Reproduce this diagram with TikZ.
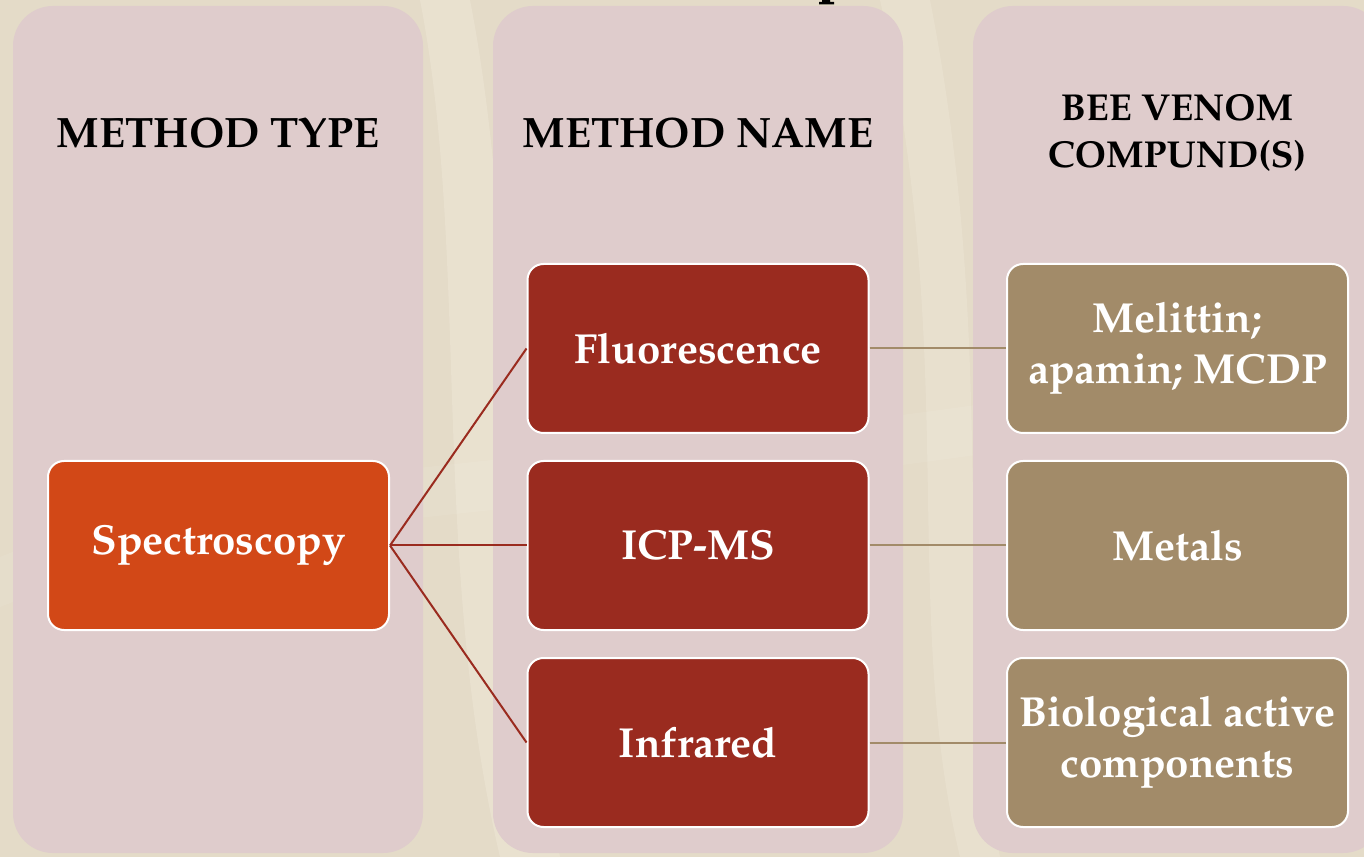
\documentclass[tikz,border=0pt]{standalone}
\usepackage[T1]{fontenc}
\usepackage{mathpazo}
\definecolor{bgbeige}{HTML}{E4DBC8}
\definecolor{bglight}{HTML}{EDE5D5}
\definecolor{colpink}{HTML}{DFCCCC}
\definecolor{typeorange}{HTML}{D24817}
\definecolor{namered}{HTML}{9A2B1F}
\definecolor{compbrown}{HTML}{A28B69}
\tikzset{
  column/.style={fill=colpink, rounded corners=40pt},
  header/.style={font=\fontsize{42.5}{48}\selectfont\bfseries, text=black, align=center},
  item/.style={draw=white, line width=2pt, rounded corners=16pt,
    minimum width=341pt, minimum height=169pt, text=white, align=center,
    inner sep=0pt, font=\fontsize{42}{51}\selectfont\bfseries},
  typebox/.style={item, fill=typeorange},
  namebox/.style={item, fill=namered},
  compbox/.style={item, fill=compbrown},
  typelink/.style={draw=namered, line width=2pt},
  complink/.style={draw=compbrown, line width=2pt}
}
\begin{document}
\begin{tikzpicture}[x=1pt,y=1pt]
\useasboundingbox (0,0) rectangle (1364,857);
% marble backdrop
\fill[bgbeige] (0,0) rectangle (1364,857);
\fill[bglight, opacity=0.6] (420,857) .. controls (470,600) and (430,300) .. (500,0) -- (560,0) .. controls (500,300) and (520,600) .. (470,857) -- cycle;
\fill[bglight, opacity=0.5] (880,857) .. controls (960,500) and (900,250) .. (960,0) -- (1000,0) .. controls (950,250) and (1000,500) .. (930,857) -- cycle;
\fill[white, opacity=0.07] (0,300) .. controls (300,420) and (700,380) .. (1364,520) -- (1364,470) .. controls (700,330) and (300,370) .. (0,250) -- cycle;
% foot of a title letter running off the top edge
\fill[black] (822,857) rectangle (830,855) (819,855) rectangle (834,852.5);
% columns
\fill[column] (13,4) rectangle (423,851);
\fill[column] (493,4) rectangle (903,851);
\fill[column] (973,4) rectangle (1383,851);
% column headers
\node[header] (htype) at (218,724) {METHOD TYPE};
\node[header] (hname) at (698,724) {METHOD NAME};
\node[header, font=\fontsize{37.5}{47}\selectfont\bfseries] (hcomp) at (1177,724) {BEE VENOM\\COMPUND(S)};
% boxes
\node[typebox] (spec) at (218.5,311.5) {Spectroscopy};
\node[namebox] (fluo) at (698,508.5) {Fluorescence};
\node[namebox] (icp) at (698,311.5) {ICP-MS};
\node[namebox] (ir) at (698,114.5) {Infrared};
\node[compbox] (mel) at (1177.5,508.5) {Melittin;\\apamin; MCDP};
\node[compbox] (met) at (1177.5,311.5) {Metals};
\node[compbox] (bio) at (1177.5,114.5) {Biological active\\components};
% connectors
\draw[typelink] (spec.east) -- (fluo.west);
\draw[typelink] (spec.east) -- (icp.west);
\draw[typelink] (spec.east) -- (ir.west);
\draw[complink] (fluo.east) -- (mel.west);
\draw[complink] (icp.east) -- (met.west);
\draw[complink] (ir.east) -- (bio.west);
\end{tikzpicture}
\end{document}
